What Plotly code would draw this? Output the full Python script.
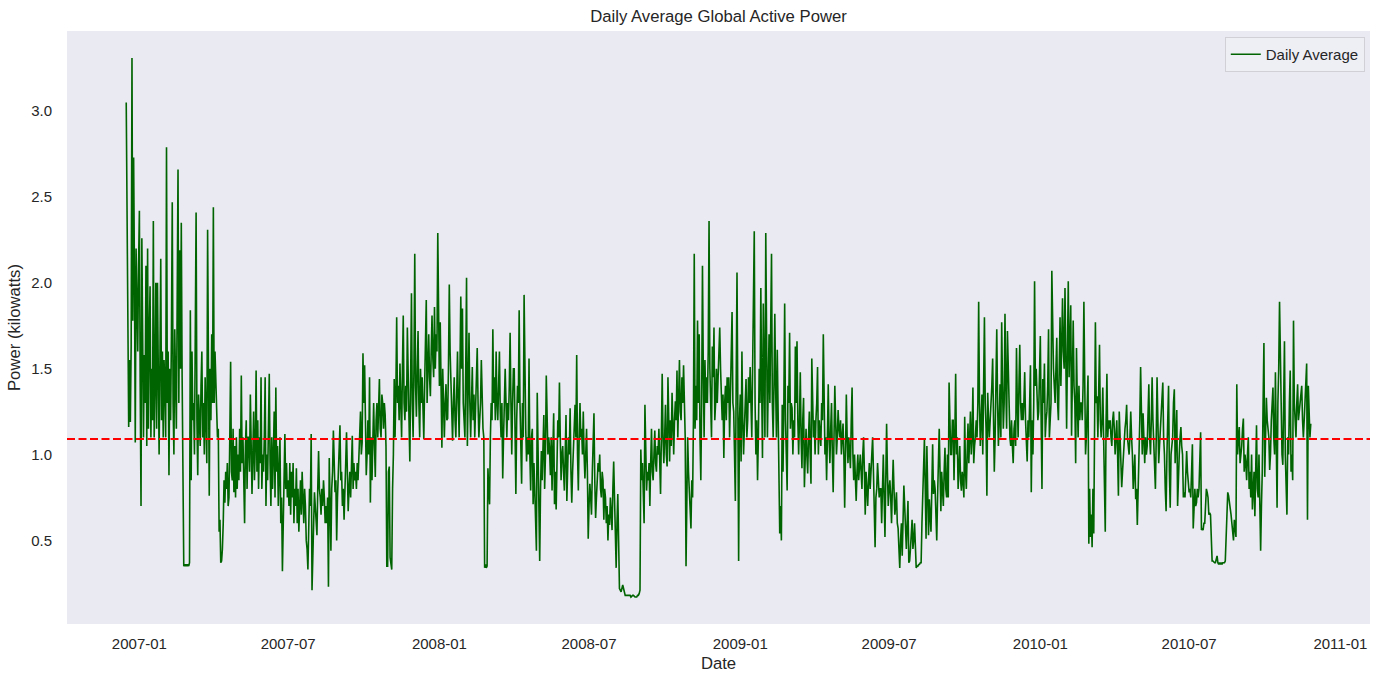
import pandas as pd
import plotly.graph_objects as go

# Daily average global active power (kW)
dec_2006 = [3.05, 2.35, 1.53, 1.16, 1.55, 1.19, 1.63, 3.31, 1.78, 2.73, 2.05, 1.07, 2.20, 1.90, 1.60, 2.10]
jan_2007 = [2.42, 1.40, 0.70, 2.26, 1.50, 1.10, 1.58, 1.30, 2.10, 1.05, 2.20, 1.15, 1.70, 1.98, 1.10, 1.50,
            1.20, 2.36, 1.10, 1.40, 2.00, 1.15, 2.00, 1.30, 1.00, 1.55, 2.14, 1.20, 1.60, 1.10, 1.55]
feb_2007 = [1.40, 1.10, 2.79, 1.30, 1.60, 0.88, 1.50, 1.20, 1.70, 2.47, 1.30, 1.00, 1.73, 1.40, 1.15, 1.90,
            2.66, 1.30, 2.19, 1.50, 2.35, 1.45, 0.45, 0.35, 0.36, 0.35, 0.36, 0.35]
mar_2007 = [0.36, 0.35, 0.37, 1.84, 0.85, 1.60, 1.20, 1.30, 1.00, 1.70, 2.41, 1.20, 0.88, 1.35, 1.20, 1.05,
            1.40, 1.60, 1.10, 1.30, 1.00, 1.45, 1.20, 0.95, 2.31, 1.30, 0.76, 1.50, 1.20, 1.70, 1.30]
apr_2007 = [2.44, 1.30, 1.60, 1.42, 1.20, 1.10, 1.15, 0.55, 0.62, 0.37, 0.38, 0.45, 0.60, 0.85, 0.72, 0.90,
            0.80, 0.95, 0.70, 0.75, 1.10, 1.54, 0.90, 0.85, 1.15, 0.78, 1.05, 0.75, 1.10, 0.80]
may_2007 = [1.00, 0.85, 1.15, 0.90, 1.46, 0.95, 1.10, 0.75, 0.60, 1.05, 1.20, 0.80, 1.10, 1.10, 0.90, 1.35,
            0.95, 0.77, 1.00, 1.25, 0.85, 1.05, 1.49, 0.90, 1.20, 0.80, 1.10, 0.95, 1.45, 0.80, 1.00]
jun_2007 = [0.90, 1.10, 1.45, 0.70, 1.00, 0.85, 1.20, 1.47, 0.95, 0.70, 1.10, 0.80, 1.00, 1.25, 0.75, 1.39,
            0.90, 1.05, 0.70, 0.85, 1.10, 0.60, 0.75, 0.32, 0.60, 0.90, 1.12, 0.80, 0.95, 0.75]
jul_2007 = [0.85, 0.70, 0.95, 0.65, 0.90, 0.75, 0.95, 0.60, 0.80, 0.70, 0.92, 0.60, 0.80, 0.55, 0.70, 0.85,
            0.65, 0.90, 0.75, 0.60, 0.80, 0.70, 0.50, 0.45, 0.33, 0.60, 0.80, 0.70, 1.12, 0.21, 0.55]
aug_2007 = [0.60, 0.78, 0.70, 0.60, 0.53, 0.80, 1.02, 0.80, 0.75, 0.65, 0.80, 0.70, 0.85, 0.75, 0.60, 0.70,
            0.60, 0.75, 0.23, 0.98, 0.70, 0.44, 0.80, 0.90, 1.14, 0.90, 0.78, 0.85, 0.50, 0.75, 0.90]
sep_2007 = [1.00, 1.17, 0.85, 0.90, 0.70, 0.80, 0.62, 0.90, 0.95, 1.13, 0.85, 0.67, 0.80, 0.90, 0.75, 1.00,
            1.11, 0.80, 0.95, 0.85, 0.90, 0.80, 0.95, 0.85, 0.97, 1.10, 1.25, 1.00, 1.07, 1.59]
oct_2007 = [1.30, 1.52, 1.10, 0.88, 1.00, 1.20, 1.00, 1.45, 0.72, 1.10, 0.85, 1.10, 1.30, 1.05, 0.87, 1.20,
            1.30, 1.10, 1.25, 1.44, 1.15, 1.10, 1.35, 1.30, 1.15, 1.30, 1.23, 1.05, 0.35, 0.35, 0.90]
nov_2007 = [0.93, 0.40, 0.34, 0.33, 0.80, 1.00, 1.44, 1.10, 1.35, 1.80, 1.30, 1.40, 1.20, 1.53, 1.30, 1.10,
            1.50, 1.81, 1.30, 1.20, 1.40, 1.25, 1.74, 1.30, 1.20, 0.96, 1.40, 1.94, 1.30, 1.10]
dec_2007 = [1.50, 2.17, 1.40, 1.22, 1.50, 1.72, 1.30, 1.10, 1.50, 1.30, 1.45, 1.20, 1.09, 1.40, 1.60, 1.90,
            1.30, 1.50, 1.70, 1.45, 1.34, 1.60, 1.81, 1.56, 1.45, 1.86, 1.50, 1.70, 1.60, 2.29, 1.50]
jan_2008 = [1.40, 1.77, 1.30, 1.04, 1.50, 1.30, 1.10, 1.30, 1.41, 1.20, 1.21, 1.50, 1.99, 1.60, 1.40, 1.30,
            1.08, 1.30, 1.45, 1.20, 1.10, 1.35, 1.60, 1.30, 1.10, 1.50, 1.92, 1.50, 1.85, 1.30, 1.15]
feb_2008 = [1.10, 1.50, 2.03, 1.05, 1.40, 1.71, 1.30, 1.10, 1.30, 1.51, 1.20, 1.35, 1.10, 1.25, 1.40, 1.62,
            1.30, 1.10, 1.20, 1.30, 1.55, 1.30, 1.15, 1.10, 0.34, 0.36, 0.34, 0.35, 0.92]
mar_2008 = [0.80, 0.71, 1.10, 1.30, 1.20, 1.73, 1.30, 1.45, 1.20, 1.60, 1.30, 1.20, 1.40, 1.60, 1.25, 1.10,
            1.30, 0.86, 1.10, 1.25, 1.50, 1.30, 1.10, 1.30, 1.20, 1.40, 1.71, 1.30, 1.00, 1.30, 1.50]
apr_2008 = [1.50, 1.00, 0.77, 1.20, 1.40, 1.30, 1.84, 1.30, 1.10, 0.83, 1.30, 1.10, 1.93, 1.25, 1.15, 0.96,
            1.10, 1.00, 1.56, 1.00, 0.79, 1.10, 1.15, 0.71, 0.95, 0.79, 0.62, 0.44, 1.36, 0.90]
may_2008 = [0.60, 0.38, 0.80, 1.02, 0.85, 1.00, 1.23, 0.80, 1.00, 1.46, 1.15, 1.00, 1.10, 1.03, 0.88, 1.10,
            0.79, 1.00, 1.24, 0.71, 0.90, 0.68, 1.08, 1.20, 1.10, 1.42, 1.10, 0.85, 1.00, 1.05, 0.90]
jun_2008 = [0.79, 1.00, 1.23, 0.73, 0.95, 1.10, 1.00, 1.27, 0.90, 0.72, 0.90, 1.00, 1.10, 1.29, 1.10, 1.58,
            1.00, 0.79, 1.10, 1.30, 1.10, 1.15, 1.00, 1.25, 1.00, 0.86, 1.00, 1.15, 0.90, 0.51]
jul_2008 = [0.70, 0.83, 0.75, 0.65, 0.90, 1.05, 1.24, 0.85, 0.63, 0.75, 0.85, 0.95, 0.90, 1.00, 0.80, 0.75,
            0.90, 0.85, 0.62, 0.80, 0.75, 0.60, 0.70, 0.50, 0.65, 0.59, 0.75, 0.60, 0.56, 0.80, 0.96]
aug_2008 = [0.75, 0.60, 0.34, 0.60, 0.77, 0.50, 0.22, 0.21, 0.20, 0.22, 0.24, 0.22, 0.19, 0.18, 0.18, 0.18,
            0.18, 0.18, 0.18, 0.18, 0.17, 0.18, 0.18, 0.18, 0.17, 0.17, 0.17, 0.17, 0.18, 0.18, 0.19]
sep_2008 = [0.21, 1.03, 0.85, 0.95, 0.80, 0.60, 1.29, 1.00, 0.79, 0.90, 0.85, 0.95, 0.70, 0.95, 1.15, 0.90,
            0.85, 1.00, 1.14, 0.95, 0.90, 1.05, 1.00, 1.15, 0.90, 0.77, 1.10, 1.47, 1.10, 0.95]
oct_2008 = [1.10, 1.29, 1.00, 0.93, 1.45, 1.10, 0.96, 1.20, 1.05, 1.36, 1.10, 1.00, 1.20, 1.31, 1.20, 1.49,
            1.10, 1.30, 1.55, 1.25, 1.20, 1.45, 1.30, 1.52, 1.15, 1.10, 0.35, 0.80, 1.10, 0.90, 0.80]
nov_2008 = [0.65, 0.57, 0.85, 0.75, 1.20, 2.17, 1.15, 1.40, 1.20, 1.78, 1.30, 1.70, 1.10, 0.85, 1.30, 2.10,
            1.50, 1.10, 1.55, 1.30, 1.45, 1.30, 1.60, 2.36, 1.50, 1.30, 1.10, 1.63, 1.45, 1.74]
dec_2008 = [1.20, 1.30, 1.50, 1.30, 1.45, 1.50, 1.74, 1.50, 1.30, 1.20, 1.35, 0.98, 1.30, 1.40, 1.20, 1.45,
            1.30, 1.45, 1.10, 1.40, 1.55, 1.83, 1.30, 1.25, 1.00, 0.73, 1.40, 2.06, 1.30, 0.38, 1.20]
jan_2009 = [1.35, 0.96, 1.60, 1.20, 1.00, 1.15, 1.30, 1.44, 1.10, 1.20, 1.45, 1.30, 1.51, 1.20, 1.10, 1.50,
            1.80, 2.30, 1.30, 1.00, 1.20, 0.85, 1.10, 1.50, 1.30, 1.97, 1.40, 0.98, 1.88, 1.40, 1.10]
feb_2009 = [2.29, 1.50, 1.10, 1.40, 1.70, 1.30, 1.60, 2.17, 1.30, 1.10, 1.40, 1.82, 1.40, 1.10, 1.61, 1.20,
            1.00, 0.54, 0.70, 0.50, 1.29, 0.90, 1.30, 1.88, 1.20, 1.00, 0.79, 1.40]
mar_2009 = [1.30, 1.71, 1.15, 1.30, 1.27, 1.00, 1.20, 1.10, 1.63, 1.30, 1.66, 1.20, 1.00, 1.20, 1.48, 1.10,
            0.92, 1.20, 1.33, 0.81, 1.00, 1.15, 1.00, 0.89, 1.10, 1.25, 1.00, 0.83, 1.56, 1.20, 1.10]
apr_2009 = [1.20, 1.00, 1.20, 1.30, 1.51, 1.00, 1.20, 1.10, 1.05, 1.30, 1.20, 1.70, 1.30, 1.00, 1.10, 0.85,
            1.10, 1.41, 1.10, 0.95, 1.15, 1.30, 1.00, 0.78, 1.10, 1.40, 1.20, 1.00, 1.10, 1.26]
may_2009 = [1.15, 1.10, 1.20, 1.00, 1.10, 1.18, 1.00, 0.69, 1.00, 1.35, 1.10, 0.95, 1.10, 1.00, 0.92, 1.20,
            1.39, 1.00, 0.85, 1.00, 0.90, 0.73, 0.90, 1.00, 0.85, 0.95, 1.00, 0.90, 0.80, 1.00, 1.10]
jun_2009 = [0.90, 0.65, 0.90, 0.80, 0.70, 0.85, 0.95, 0.80, 0.90, 1.00, 1.10, 0.90, 0.70, 0.46, 0.75, 0.80,
            0.95, 0.85, 0.75, 0.80, 0.80, 0.60, 0.80, 1.00, 0.75, 0.52, 0.85, 1.18, 0.90, 0.70]
jul_2009 = [0.80, 0.85, 0.75, 0.60, 0.80, 0.97, 0.80, 0.65, 0.70, 0.78, 0.60, 0.57, 0.45, 0.34, 0.50, 0.60,
            0.41, 0.60, 0.82, 0.70, 0.50, 0.45, 0.60, 0.73, 0.37, 0.38, 0.45, 0.55, 0.62, 0.45, 0.50]
aug_2009 = [0.60, 0.50, 0.34, 0.35, 0.35, 0.36, 0.36, 0.37, 0.37, 0.60, 0.73, 0.90, 1.09, 0.80, 0.51, 1.05,
            0.80, 0.53, 0.74, 0.65, 0.55, 0.80, 1.06, 0.77, 0.85, 0.80, 0.60, 0.50, 0.75, 0.90, 1.15]
sep_2009 = [0.90, 0.67, 0.90, 0.80, 0.70, 0.90, 1.04, 0.80, 0.75, 1.00, 0.75, 1.42, 1.10, 1.00, 1.00, 1.20,
            1.20, 0.85, 1.10, 1.47, 1.00, 1.10, 0.80, 1.00, 1.05, 0.85, 0.79, 0.90, 0.85, 0.75]
oct_2009 = [1.22, 0.90, 0.80, 1.00, 1.18, 0.95, 1.10, 1.25, 1.00, 1.10, 1.39, 0.95, 1.05, 1.10, 1.20, 1.10,
            1.30, 1.89, 1.30, 1.05, 1.20, 1.35, 1.00, 1.30, 1.80, 1.30, 1.15, 0.76, 1.36, 1.20, 1.10]
nov_2009 = [1.20, 1.29, 1.40, 1.56, 1.20, 0.90, 1.10, 1.40, 1.73, 1.30, 1.05, 1.20, 1.41, 1.10, 1.77, 1.40,
            1.15, 1.30, 1.82, 1.40, 1.15, 1.72, 1.50, 1.30, 1.10, 1.05, 1.20, 1.05, 0.95, 1.15]
dec_2009 = [1.20, 1.05, 1.62, 1.30, 1.10, 1.40, 1.64, 1.30, 1.20, 1.30, 1.20, 1.30, 1.48, 1.20, 1.10, 0.96,
            1.20, 1.10, 1.30, 1.52, 0.78, 1.20, 1.00, 1.30, 2.01, 1.40, 1.50, 1.35, 1.20, 1.25, 1.50]
jan_2010 = [1.69, 1.20, 0.80, 1.44, 1.30, 1.53, 1.10, 1.20, 1.25, 1.40, 1.73, 1.10, 1.20, 1.30, 2.07, 1.70,
            1.50, 1.40, 1.30, 1.50, 1.68, 1.30, 1.20, 1.50, 1.80, 1.40, 1.60, 1.91, 1.60, 1.50, 1.97]
feb_2010 = [1.40, 1.15, 1.60, 2.01, 1.45, 1.60, 1.87, 1.11, 1.50, 1.78, 1.40, 1.30, 0.95, 1.62, 1.30, 1.10,
            1.40, 1.20, 1.30, 1.30, 1.20, 1.40, 1.89, 1.20, 1.00, 1.10, 1.30, 1.46]
mar_2010 = [0.48, 0.80, 0.52, 0.65, 0.46, 0.80, 0.54, 1.20, 1.77, 1.30, 1.34, 1.10, 1.30, 1.64, 1.20, 1.10,
            1.20, 1.39, 1.10, 0.90, 0.55, 1.20, 1.47, 1.10, 1.20, 1.15, 1.20, 1.10, 1.05, 1.20, 1.25]
apr_2010 = [1.15, 1.00, 1.10, 1.20, 1.00, 0.76, 1.25, 1.10, 1.00, 0.81, 0.90, 1.00, 1.10, 1.15, 1.20, 1.29,
            1.10, 1.05, 1.00, 1.10, 1.25, 1.10, 1.00, 0.80, 0.95, 1.00, 0.74, 0.80, 0.59, 0.80]
may_2010 = [0.90, 1.20, 1.51, 1.10, 1.00, 1.24, 1.00, 0.95, 1.10, 1.00, 1.05, 1.20, 1.41, 1.10, 1.00, 1.20,
            1.45, 1.20, 1.05, 0.95, 0.80, 1.10, 1.45, 1.20, 0.95, 1.05, 1.15, 1.25, 1.30, 1.42, 1.10]
jun_2010 = [1.00, 0.80, 0.67, 1.00, 1.20, 1.40, 0.90, 0.69, 1.00, 1.05, 1.10, 1.30, 1.38, 0.95, 1.10, 1.26,
            0.70, 0.90, 1.00, 1.10, 1.16, 1.05, 1.00, 0.75, 0.78, 0.75, 0.90, 1.02, 0.90, 0.85]
jul_2010 = [0.78, 0.80, 0.75, 0.90, 1.06, 0.57, 0.75, 0.80, 0.70, 0.72, 0.80, 0.75, 0.80, 0.95, 1.13, 0.56,
            0.57, 0.56, 0.60, 0.60, 0.70, 0.80, 0.78, 0.75, 0.65, 0.66, 0.65, 0.50, 0.38, 0.38, 0.37]
aug_2010 = [0.37, 0.37, 0.39, 0.41, 0.37, 0.36, 0.37, 0.36, 0.37, 0.36, 0.37, 0.37, 0.37, 0.38, 0.55, 0.72,
            0.78, 0.76, 0.73, 0.70, 0.65, 0.60, 0.55, 0.50, 0.62, 0.55, 0.52, 1.41, 1.00, 1.10, 1.16]
sep_2010 = [0.95, 1.00, 1.05, 1.15, 1.21, 0.90, 1.00, 0.95, 0.85, 1.00, 1.10, 0.80, 0.90, 0.75, 1.00, 0.68,
            0.80, 0.90, 0.64, 0.90, 1.17, 0.80, 0.75, 1.00, 0.80, 0.44, 0.70, 0.90, 1.30, 1.65]
oct_2010 = [0.87, 1.20, 1.33, 1.20, 1.15, 1.10, 0.91, 1.00, 1.20, 1.30, 1.39, 1.10, 1.00, 1.48, 1.00, 0.69,
            1.30, 1.50, 1.89, 1.50, 1.30, 1.00, 0.94, 1.40, 1.66, 1.00, 0.80, 0.65, 1.10, 1.00, 1.30]
nov_2010 = [1.49, 0.90, 1.00, 0.85, 1.78, 1.30, 1.20, 1.10, 1.30, 1.41, 1.20, 1.25, 1.30, 1.35, 1.40, 1.20,
            1.10, 1.20, 1.30, 1.40, 1.53, 0.62, 1.40, 1.25, 1.10, 1.18]

# Overall mean of the series, shown as the dashed red line
mean_power = 1.09

# Tick labels of the date axis
x_tick_dates = ["2007-01-01", "2007-07-01", "2008-01-01", "2008-07-01", "2009-01-01",
                "2009-07-01", "2010-01-01", "2010-07-01", "2011-01-01"]
x_tick_labels = ["2007-01", "2007-07", "2008-01", "2008-07", "2009-01",
                 "2009-07", "2010-01", "2010-07", "2011-01"]
y_tick_values = [0.5, 1.0, 1.5, 2.0, 2.5, 3.0]

month_blocks = [
    ("2006-12-16", dec_2006),
    ("2007-01-01", jan_2007), ("2007-02-01", feb_2007), ("2007-03-01", mar_2007),
    ("2007-04-01", apr_2007), ("2007-05-01", may_2007), ("2007-06-01", jun_2007),
    ("2007-07-01", jul_2007), ("2007-08-01", aug_2007), ("2007-09-01", sep_2007),
    ("2007-10-01", oct_2007), ("2007-11-01", nov_2007), ("2007-12-01", dec_2007),
    ("2008-01-01", jan_2008), ("2008-02-01", feb_2008), ("2008-03-01", mar_2008),
    ("2008-04-01", apr_2008), ("2008-05-01", may_2008), ("2008-06-01", jun_2008),
    ("2008-07-01", jul_2008), ("2008-08-01", aug_2008), ("2008-09-01", sep_2008),
    ("2008-10-01", oct_2008), ("2008-11-01", nov_2008), ("2008-12-01", dec_2008),
    ("2009-01-01", jan_2009), ("2009-02-01", feb_2009), ("2009-03-01", mar_2009),
    ("2009-04-01", apr_2009), ("2009-05-01", may_2009), ("2009-06-01", jun_2009),
    ("2009-07-01", jul_2009), ("2009-08-01", aug_2009), ("2009-09-01", sep_2009),
    ("2009-10-01", oct_2009), ("2009-11-01", nov_2009), ("2009-12-01", dec_2009),
    ("2010-01-01", jan_2010), ("2010-02-01", feb_2010), ("2010-03-01", mar_2010),
    ("2010-04-01", apr_2010), ("2010-05-01", may_2010), ("2010-06-01", jun_2010),
    ("2010-07-01", jul_2010), ("2010-08-01", aug_2010), ("2010-09-01", sep_2010),
    ("2010-10-01", oct_2010), ("2010-11-01", nov_2010),
]

dates = []
values = []
for start, vals in month_blocks:
    dates.extend(pd.date_range(start, periods=len(vals), freq="D"))
    values.extend(vals)

# matplotlib-like 5% margins on both axes
t0, t1 = dates[0], dates[-1]
pad_t = (t1 - t0) * 0.05
vmin, vmax = min(values), max(values)
pad_v = (vmax - vmin) * 0.05

FONT = "Arial, Liberation Sans, DejaVu Sans, sans-serif"
TXT = "#262626"

fig = go.Figure()
fig.add_trace(go.Scatter(
    x=dates, y=values, mode="lines", name="Daily Average",
    line=dict(color="#006400", width=1.6),
))

fig.add_shape(
    type="line", xref="paper", x0=0, x1=1, yref="y", y0=mean_power, y1=mean_power,
    line=dict(color="#FF0000", width=2, dash="8px,3.5px"),
)

fig.update_layout(
    width=1381, height=684,
    margin=dict(l=67, r=11, t=31, b=60),
    paper_bgcolor="white",
    plot_bgcolor="#EAEAF2",
    font=dict(family=FONT, size=15, color=TXT),
    title=dict(text="Daily Average Global Active Power", x=0.5, xref="paper", xanchor="center",
               y=1 - 16 / 684, yanchor="middle", font=dict(size=16.7, color=TXT)),
    showlegend=True,
    legend=dict(x=0.996, y=0.99, xanchor="right", yanchor="top",
                bgcolor="rgba(238,238,245,0.9)", bordercolor="#D0D0D6", borderwidth=1,
                font=dict(size=15, color=TXT)),
    xaxis=dict(
        type="date", range=[t0 - pad_t, t1 + pad_t], automargin=False,
        tickvals=x_tick_dates, ticktext=x_tick_labels,
        showgrid=False, zeroline=False, showline=False,
        ticks="outside", ticklen=6, tickcolor="rgba(0,0,0,0)",
        tickfont=dict(size=15, color=TXT),
        title=dict(text="Date", font=dict(size=16.7, color=TXT), standoff=6),
    ),
    yaxis=dict(
        range=[vmin - pad_v, vmax + pad_v], automargin=False,
        tickvals=y_tick_values, tickformat=".1f",
        showgrid=False, zeroline=False, showline=False,
        ticks="outside", ticklen=11, tickcolor="rgba(0,0,0,0)",
        tickfont=dict(size=15, color=TXT),
        title=dict(text="Power (kilowatts)", font=dict(size=16.7, color=TXT), standoff=6),
    ),
)

fig.write_html("out.html", config={"displayModeBar": False},
               post_script="document.body.style.margin='0';")
